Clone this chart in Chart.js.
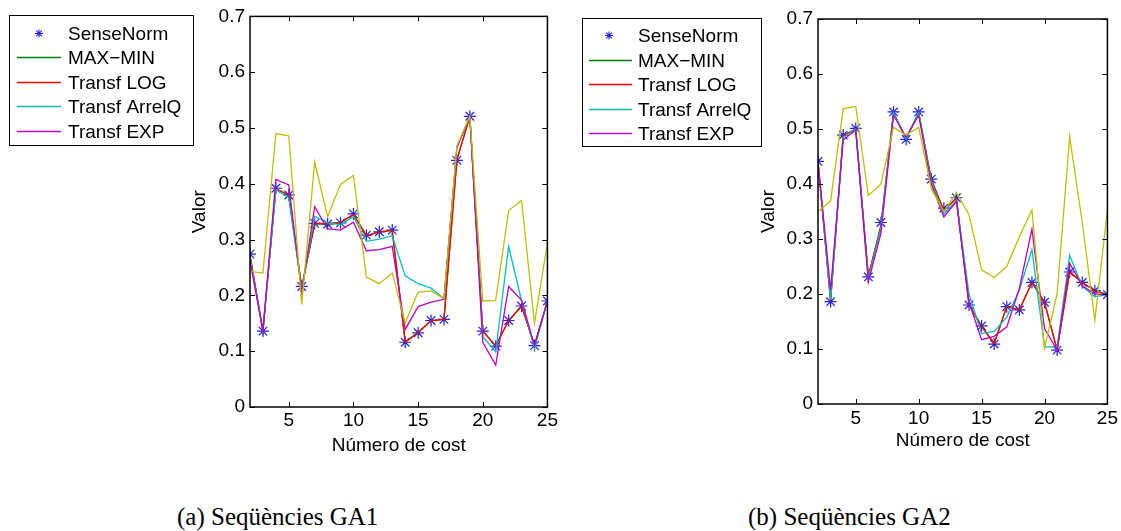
<!DOCTYPE html>
<html><head><meta charset="utf-8">
<script src="https://cdn.jsdelivr.net/npm/chart.js@4.4.0/dist/chart.umd.min.js"></script>
<style>
html,body{margin:0;padding:0;background:#fff;}
body{width:1121px;height:531px;position:relative;overflow:hidden;}
.wrap{position:absolute;top:0;}
.cap{position:absolute;font-family:"Liberation Serif","Times New Roman",serif;font-size:25px;line-height:25px;color:#000;white-space:nowrap;}
</style></head><body>
<div class="wrap" style="left:0;width:560px;height:461px"><canvas id="c1" width="560" height="461"></canvas></div>
<div class="wrap" style="left:566px;width:555px;height:456px"><canvas id="c2" width="555" height="456"></canvas></div>
<div class="cap" style="left:177px;top:504px">(a) Seqüències GA1</div>
<div class="cap" style="left:748px;top:504px">(b) Seqüències GA2</div>
<script>
// ---- data ----
const costs = [2,3,4,5,6,7,8,9,10,11,12,13,14,15,16,17,18,19,20,21,22,23,24,25];
const xTickValues = [5,10,15,20,25];
const yTickValues = [0,0.1,0.2,0.3,0.4,0.5,0.6,0.7];
const seriesNames = ['SenseNorm','MAX\u2212MIN','Transf LOG','Transf ArrelQ','Transf EXP',''];

// (a) GA1
const senseNormA = [0.274,0.136,0.392,0.380,0.216,0.329,0.328,0.330,0.346,0.308,0.314,0.317,0.116,0.133,0.155,0.157,0.442,0.521,0.136,0.109,0.155,0.181,0.110,0.190];
const maxMinA    = [0.272,0.137,0.391,0.379,0.214,0.328,0.328,0.330,0.345,0.307,0.314,0.316,0.117,0.134,0.155,0.157,0.444,0.520,0.136,0.110,0.155,0.180,0.111,0.189];
const logA       = [0.272,0.136,0.391,0.380,0.215,0.329,0.329,0.331,0.345,0.307,0.314,0.317,0.116,0.133,0.155,0.157,0.443,0.521,0.136,0.109,0.155,0.181,0.110,0.190];
const arrelQA    = [0.268,0.136,0.390,0.375,0.210,0.342,0.330,0.327,0.341,0.297,0.301,0.307,0.235,0.221,0.213,0.194,0.465,0.521,0.126,0.099,0.288,0.190,0.105,0.190];
const expA       = [0.262,0.136,0.408,0.398,0.205,0.359,0.319,0.317,0.331,0.280,0.282,0.288,0.139,0.180,0.188,0.193,0.465,0.521,0.116,0.075,0.216,0.191,0.110,0.190];
const otherA     = [0.243,0.240,0.490,0.486,0.184,0.439,0.341,0.399,0.415,0.233,0.221,0.240,0.150,0.206,0.208,0.194,0.468,0.521,0.190,0.191,0.352,0.370,0.150,0.295];

// (b) GA2
const senseNormB = [0.441,0.186,0.489,0.501,0.231,0.330,0.531,0.481,0.531,0.409,0.356,0.375,0.180,0.142,0.109,0.177,0.171,0.221,0.185,0.098,0.240,0.221,0.206,0.199];
const maxMinB    = [0.440,0.188,0.488,0.500,0.232,0.325,0.530,0.482,0.530,0.408,0.352,0.374,0.180,0.142,0.110,0.177,0.171,0.221,0.185,0.099,0.240,0.221,0.206,0.199];
const logB       = [0.440,0.188,0.488,0.500,0.233,0.322,0.530,0.482,0.530,0.408,0.352,0.374,0.180,0.141,0.110,0.177,0.171,0.221,0.185,0.098,0.240,0.221,0.206,0.199];
const arrelQB    = [0.440,0.190,0.485,0.500,0.228,0.320,0.530,0.482,0.530,0.405,0.345,0.370,0.200,0.128,0.132,0.158,0.207,0.281,0.104,0.104,0.270,0.214,0.195,0.199];
const expB       = [0.440,0.207,0.480,0.498,0.222,0.310,0.525,0.485,0.525,0.400,0.340,0.368,0.185,0.117,0.123,0.140,0.210,0.318,0.137,0.098,0.256,0.215,0.200,0.199];
const otherB     = [0.350,0.369,0.537,0.541,0.379,0.400,0.503,0.489,0.503,0.392,0.350,0.384,0.344,0.244,0.230,0.250,0.304,0.353,0.101,0.200,0.486,0.330,0.152,0.353];

const colors = ['#0000ff','#008000','#ff0000','#00bfbf','#bf00bf','#bfbf00'];

Chart.defaults.font.family = '"Liberation Sans", Arial, sans-serif';
Chart.defaults.font.size = 19;
Chart.defaults.color = '#000';

function pts(arr){ return costs.map((c,i)=>({x:c,y:arr[i]})); }

function drawStar(ctx,x,y,r,color){
  ctx.save();
  ctx.strokeStyle=color; ctx.lineWidth=1.1;
  ctx.beginPath();
  for(let k=0;k<4;k++){
    const a=k*Math.PI/4;
    ctx.moveTo(x-r*Math.cos(a),y-r*Math.sin(a));
    ctx.lineTo(x+r*Math.cos(a),y+r*Math.sin(a));
  }
  ctx.stroke();
  ctx.restore();
}

const framePlugin = {
  id:'frame',
  afterDatasetsDraw(chart){
    const {ctx, chartArea:a, scales:{x,y}} = chart;
    ctx.save();
    ctx.strokeStyle='#000'; ctx.lineWidth=1.5;
    ctx.strokeRect(a.left,a.top,a.right-a.left,a.bottom-a.top);
    ctx.lineWidth=1;
    ctx.beginPath();
    xTickValues.forEach(v=>{
      const px=Math.round(x.getPixelForValue(v))+0.5;
      ctx.moveTo(px,a.bottom); ctx.lineTo(px,a.bottom-5);
      ctx.moveTo(px,a.top); ctx.lineTo(px,a.top+5);
    });
    yTickValues.forEach(v=>{
      const py=Math.round(y.getPixelForValue(v))+0.5;
      ctx.moveTo(a.left,py); ctx.lineTo(a.left+5,py);
      ctx.moveTo(a.right,py); ctx.lineTo(a.right-5,py);
    });
    ctx.stroke();
    ctx.restore();
  }
};

const legendPlugin = {
  id:'boxLegend',
  afterDraw(chart, args, opts){
    const L = opts;
    const ctx = chart.ctx;
    ctx.save();
    ctx.fillStyle='#fff';
    ctx.fillRect(L.x,L.y,L.w,L.h);
    ctx.strokeStyle='#000'; ctx.lineWidth=1;
    ctx.strokeRect(L.x+0.5,L.y+0.5,L.w,L.h);
    ctx.font = '19px "Liberation Sans", Arial, sans-serif';
    ctx.textBaseline='middle'; ctx.textAlign='left';
    chart.data.datasets.forEach((ds,i)=>{
      if(!ds.label) return;
      const yy = Math.round(L.y + L.row0 + i*L.step) + 0.5;
      if(ds.showLine===false){
        drawStar(ctx, L.x+L.starX, yy, 4, ds.pointBorderColor);
      } else {
        ctx.strokeStyle=ds.borderColor; ctx.lineWidth=1.5;
        ctx.beginPath(); ctx.moveTo(L.x+L.l0,yy); ctx.lineTo(L.x+L.l1,yy); ctx.stroke();
      }
      ctx.fillStyle='#000';
      ctx.fillText(ds.label, L.x+L.tx, yy+1);
    });
    ctx.restore();
  }
};

function build(id, arrays, geo){
  const datasets = arrays.map((arr,i)=>{
    const base = {label:seriesNames[i], data:pts(arr), order: 10-i};
    if(i===0){
      return Object.assign(base,{showLine:false, pointStyle:'star', pointRadius:6, pointBorderWidth:1.2,
        pointBorderColor:'#2020ff', pointBackgroundColor:'#2020ff', borderColor:'#2020ff'});
    }
    return Object.assign(base,{borderColor:colors[i], borderWidth:1.3, pointRadius:0, tension:0, fill:false});
  });
  return new Chart(document.getElementById(id),{
    type:'line',
    data:{datasets},
    options:{
      responsive:false, animation:false, devicePixelRatio:1,
      layout:{padding:{top:geo.padTop,right:geo.padRight,left:0,bottom:0}},
      plugins:{legend:{display:false}, tooltip:{enabled:false}, boxLegend:geo.legend},
      scales:{
        x:{type:'linear',min:2,max:25,
          grid:{display:false,drawTicks:false}, border:{display:false},
          afterBuildTicks:s=>{s.ticks=xTickValues.map(v=>({value:v}));},
          afterFit:s=>{s.height=geo.xHeight;},
          ticks:{padding:geo.xTickPad,maxRotation:0,autoSkip:false},
          title:{display:true,text:'Número de cost',padding:{top:0,bottom:4}}},
        y:{type:'linear',min:0,max:0.7,
          grid:{display:false,drawTicks:false}, border:{display:false},
          afterBuildTicks:s=>{s.ticks=yTickValues.map(v=>({value:v}));},
          afterFit:s=>{s.width=geo.yWidth;},
          ticks:{padding:5,callback:v=>v===0?'0':v.toFixed(1)},
          title:{display:true,text:'Valor',padding:{top:geo.titlePad,bottom:0}}}
      }
    },
    plugins:[framePlugin, legendPlugin]
  });
}

build('c1',[senseNormA,maxMinA,logA,arrelQA,expA,otherA],{
  padTop:15,padRight:12,xHeight:54,xTickPad:2,yWidth:250,titlePad:188,
  legend:{x:9,y:15,w:184,h:130,row0:17.5,step:24.5,l0:8,l1:52,starX:30,tx:59}
});
build('c2',[senseNormB,maxMinB,logB,arrelQB,expB,otherB],{
  padTop:19,padRight:13,xHeight:52,xTickPad:3,yWidth:252,titlePad:191,
  legend:{x:16,y:18,w:179,h:128,row0:17,step:24.5,l0:7,l1:50,starX:27,tx:56}
});
</script>
</body></html>
